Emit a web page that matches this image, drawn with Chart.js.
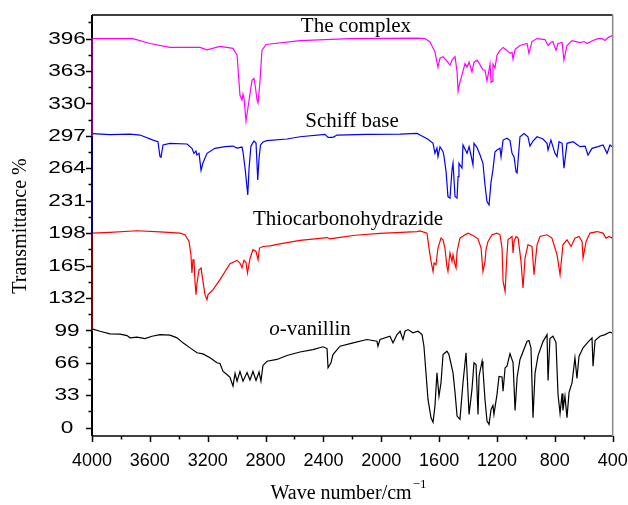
<!DOCTYPE html>
<html>
<head>
<meta charset="utf-8">
<script src="https://cdn.jsdelivr.net/npm/chart.js@4.4.1/dist/chart.umd.min.js"></script>
<style>
html,body{margin:0;padding:0;background:#fff;}
#wrap{width:628px;height:505px;}
</style>
</head>
<body>
<div id="wrap"><canvas id="c" width="628" height="505"></canvas></div>
<script>
// ---- data (wave number cm^-1, transmittance %) ----
const complexWn = [4000,3717,3599,3461,3253,3205,3115,3025,2997,2977,2963,2956,2949,2935,2914,2894,2880,2873,2859,2852,2838,2825,2797,2562,2216,1753,1698,1663,1629,1608,1594,1573,1546,1525,1511,1490,1476,1469,1456,1442,1421,1407,1393,1373,1359,1338,1324,1297,1283,1269,1255,1248,1241,1234,1228,1214,1200,1179,1158,1131,1110,1096,1089,1075,1041,992,979,958,923,868,847,827,813,792,778,750,737,716,681,626,598,578,536,502,474,453,432,404];
const complexT = [396,396,391,387,387,384.5,388,386,379,338.5,333.5,339.5,335.5,312,333.5,353.5,355.5,349.5,333.5,330.5,353.5,384,390,394,396,396.5,396,392.5,382.5,367,376,377.5,373,369,374,377.5,362,342.5,352,359,370.5,367,372,362,372,374,371,364,364,353,364,370,351.5,352.5,370,366,379,384,387,384,381,382,375,385,389,391,381,393,396,395,389,392,393,384,391,392,374,389,394,392,393,391,394,396,396,394,397,399];

const schiffWn = [4000,3876,3737,3668,3578,3544,3530,3523,3509,3461,3343,3309,3295,3281,3275,3260,3246,3233,3205,3150,3080,3025,2997,2963,2956,2942,2923,2914,2901,2880,2866,2854,2845,2835,2818,2790,2652,2562,2389,2368,2334,2306,2099,1870,1753,1732,1677,1642,1629,1615,1608,1594,1573,1566,1552,1539,1525,1511,1504,1490,1476,1469,1463,1442,1435,1407,1393,1380,1366,1359,1338,1317,1297,1283,1269,1255,1241,1228,1214,1200,1179,1172,1158,1131,1110,1096,1082,1068,1061,1054,1041,1013,986,972,951,923,882,854,847,827,799,785,771,750,737,716,674,626,591,571,543,502,467,439,419,404];
const schiffT = [299.3,298.3,298.8,297.8,292.7,291,275.8,275.2,287.7,289.4,288.7,284.3,279.2,281.6,277.5,279.2,261.8,269.4,279.2,284.3,286,286.6,284.6,285.6,280.6,264.3,236.9,264.3,286.6,291.7,289.7,252.1,274.5,287.7,290.7,292.2,293.8,296.1,298.5,295.5,295.5,297.8,298.5,298.8,299.5,297.8,293.5,289.4,279.2,284.6,275.8,285.9,280.9,275.8,260.6,235.2,233.6,262.3,269.1,235.2,233.6,255.5,269.1,264.3,287.7,279.2,286,277.5,267.4,289.4,285.1,277.5,269.1,247,229.8,226.7,250.1,262.3,280.6,282.6,284.3,275.8,292.7,294.5,292.2,279.2,275.5,260.2,259.2,272.4,296.1,299.3,296.1,286.6,291.7,296.1,293.8,289.4,282.6,292.7,279.2,275.8,291,289.4,264,289.4,291,286,286.6,277.5,284.3,286,287.7,279.2,287.7,286];

const thioWn = [4000,3876,3689,3530,3392,3357,3329,3316,3309,3302,3295,3288,3281,3274,3260,3246,3233,3219,3205,3198,3163,3115,3046,2997,2977,2963,2949,2935,2925,2908,2887,2866,2852,2842,2818,2769,2700,2562,2375,2354,2285,2182,2009,1753,1732,1684,1670,1656,1642,1635,1622,1608,1587,1573,1560,1546,1539,1525,1511,1504,1490,1483,1476,1456,1421,1400,1366,1331,1310,1297,1283,1276,1262,1234,1200,1179,1165,1158,1144,1131,1124,1096,1089,1082,1068,1054,1034,1020,1006,986,958,944,923,903,854,820,785,764,744,716,688,661,633,612,605,584,557,508,467,446,425,404];
const thioT = [198,198.8,200.4,199.3,198,196.3,189.5,176,157.4,170.9,170.9,148.9,135.4,147.2,160.7,162.5,148.9,135.4,130.3,135.4,140.4,150.6,166.8,170.2,167.5,162.8,170.4,167.8,157.4,171.9,181.1,179.3,170.9,182.8,184.4,185.1,187.1,190.7,193.5,192.2,193.7,195.8,197.8,199.6,200.3,198,182.8,169.2,159,167.5,165.8,182.8,192.9,191.2,182.8,164.1,159,177.7,169.2,176,165.8,162.5,179.3,192.9,196.3,198,195.6,192.2,182.8,159,168.9,181.1,189.5,196.3,198,196.3,182.8,148.9,138.7,176,191.2,194.6,177.7,189.5,194.6,192.9,169.2,142.2,172.6,186.1,184.4,155.7,186.1,194.6,196.3,192.9,176,155.7,186.1,191.2,184.4,192.9,194.6,189.5,172.6,189.5,198,199.6,198,192.9,194.7,192.9];

const vanWn = [4000,3945,3876,3806,3758,3737,3689,3634,3585,3530,3461,3412,3371,3322,3274,3233,3184,3136,3115,3094,3067,3046,3025,3011,2997,2977,2956,2928,2908,2887,2866,2845,2832,2818,2790,2721,2652,2562,2472,2403,2375,2368,2348,2334,2285,2195,2099,2030,2023,2009,1940,1919,1891,1870,1850,1836,1815,1781,1746,1718,1705,1691,1677,1656,1642,1629,1615,1601,1587,1573,1546,1532,1504,1490,1476,1456,1435,1414,1407,1393,1373,1359,1345,1331,1324,1303,1297,1283,1269,1255,1241,1228,1221,1200,1186,1165,1158,1144,1131,1110,1089,1075,1061,1041,992,979,965,951,937,916,882,854,847,834,813,792,778,764,750,744,730,716,702,681,661,647,633,605,571,543,536,522,488,453,432,419,404];
const vanT = [100.5,98.1,95.4,95.2,93.7,91.4,92.2,90.7,93,94.7,94.2,91.4,86.3,81.2,76.2,75.1,71.1,66,65.3,57.2,54.1,51.1,42.3,55.2,47.3,57.2,47.3,56.2,48.5,57.2,48,56.7,47.3,63.3,67.6,69.4,73.4,77,79.5,82.3,80.5,60.9,66,74.4,82.9,86.3,89.7,88,82.9,89.7,93,86.3,94.7,98.1,89.7,98.1,99.8,96.5,98.1,94.7,82.9,55.8,28.7,10.1,5.4,21.9,55.8,32.1,45.7,74.4,77.8,74.4,55.8,35.6,11.8,8.4,45.7,76.2,55.8,13.5,38.9,66,64.3,13.5,52.4,67.6,59.2,28.7,6.7,3.3,18.6,22.6,13.5,33.8,52.1,51.6,37.2,60.9,62.5,75.4,66.3,17.6,51.1,69.4,88,88.7,81.2,10.1,55.2,73.4,87.6,94.7,48,90.7,93,86.6,33.8,14.5,34.8,17.6,32.1,10.1,35.6,45.7,71.1,50.1,72.4,81.2,87.1,91.4,62.5,88.6,93,94.7,96.3,97.1,96.3];

const yTickValues = [0,33,66,99,132,165,198,231,264,297,330,363,396];
const xTickValues = [4000,3600,3200,2800,2400,2000,1600,1200,800,400];
const seriesNames = ['The complex','Schiff base','Thiocarbonohydrazide','o-vanillin'];

function pts(xs, ys){ return xs.map((x,i)=>({x:x, y:ys[i]})); }

const serif = "'Liberation Serif','Times New Roman',serif";
const sans = "'Liberation Sans',Arial,sans-serif";

const decor = {
  id:'decor',
  afterDraw(chart){
    const ctx = chart.ctx, xs = chart.scales.x, ys = chart.scales.y, a = chart.chartArea;
    ctx.save();
    ctx.lineWidth = 1.5;
    ctx.strokeStyle = '#000';
    ctx.beginPath(); ctx.moveTo(a.left, a.top); ctx.lineTo(a.right, a.top); ctx.stroke();
    ctx.beginPath(); ctx.moveTo(a.left, a.bottom); ctx.lineTo(a.right, a.bottom); ctx.stroke();
    ctx.strokeStyle = '#888';
    ctx.beginPath(); ctx.moveTo(a.right, a.top); ctx.lineTo(a.right, a.bottom); ctx.stroke();
    const segs = [[a.top, ys.getPixelForValue(396), '#000'],
                  [ys.getPixelForValue(396), ys.getPixelForValue(297), '#800080'],
                  [ys.getPixelForValue(297), ys.getPixelForValue(198), '#000080'],
                  [ys.getPixelForValue(198), ys.getPixelForValue(99), '#800000'],
                  [ys.getPixelForValue(99), a.bottom, '#000']];
    ctx.lineWidth = 2;
    segs.forEach(s=>{ ctx.strokeStyle=s[2]; ctx.beginPath(); ctx.moveTo(a.left, s[0]); ctx.lineTo(a.left, s[1]); ctx.stroke(); });
    ctx.strokeStyle = '#000'; ctx.lineWidth = 1.5;
    for (let v = 0; v <= 420; v += 16.5) {
      const p = Math.round(ys.getPixelForValue(v)) + 0.5;
      if (p < a.top - 0.5) break;
      const major = Math.abs(v/33 - Math.round(v/33)) < 1e-6;
      ctx.beginPath(); ctx.moveTo(a.left, p); ctx.lineTo(a.left - (major ? 6 : 3.5), p); ctx.stroke();
    }
    for (let v = 400; v <= 4000; v += 200) {
      const p = Math.round(xs.getPixelForValue(v)) + 0.5;
      const major = v % 400 === 0;
      ctx.beginPath(); ctx.moveTo(p, a.bottom); ctx.lineTo(p, a.bottom + (major ? 6 : 3.5)); ctx.stroke();
    }
    // y tick labels (horizontally wide lettering as in the reference)
    ctx.fillStyle = '#000';
    ctx.font = '17px ' + sans;
    ctx.textAlign = 'center'; ctx.textBaseline = 'middle';
    yTickValues.forEach(v => {
      ctx.save();
      ctx.translate(67, ys.getPixelForValue(v) + 0.5);
      ctx.scale(1.33, 1);
      ctx.fillText(String(v), 0, 0);
      ctx.restore();
    });
    ctx.textBaseline = 'alphabetic';
    ctx.textAlign = 'center';
    ctx.font = '21px ' + serif;
    ctx.fillText(seriesNames[0], xs.getPixelForValue(2175), ys.getPixelForValue(402.7));
    ctx.fillText(seriesNames[1], xs.getPixelForValue(2202), ys.getPixelForValue(306.2));
    ctx.fillText(seriesNames[2], xs.getPixelForValue(2230), ys.getPixelForValue(206.4));
    const cx = xs.getPixelForValue(2493), by = ys.getPixelForValue(94.7);
    ctx.font = 'italic 21px ' + serif;
    const w1 = ctx.measureText('o').width;
    ctx.font = '21px ' + serif;
    const w2 = ctx.measureText('-vanillin').width;
    ctx.textAlign = 'left';
    const x0 = cx - (w1 + w2)/2;
    ctx.font = 'italic 21px ' + serif; ctx.fillText('o', x0, by);
    ctx.font = '21px ' + serif; ctx.fillText('-vanillin', x0 + w1, by);
    ctx.font = '20px ' + serif;
    const t1 = 'Wave number/cm';
    const tw = ctx.measureText(t1).width;
    ctx.font = '13px ' + serif;
    const sw = ctx.measureText('\u22121').width;
    const tx = 348 - (tw + sw)/2;
    ctx.font = '20px ' + serif; ctx.fillText(t1, tx, 499);
    ctx.font = '13px ' + serif; ctx.fillText('\u22121', tx + tw + 1, 488);
    ctx.translate(26, 226); ctx.rotate(-Math.PI/2);
    ctx.textAlign = 'center'; ctx.font = '20px ' + serif;
    ctx.fillText('Transmittance %', 0, 0);
    ctx.restore();
  }
};

const cols = ['#FF00FF','#0000FF','#FF0000','#000000'];
const data = [pts(complexWn, complexT), pts(schiffWn, schiffT), pts(thioWn, thioT), pts(vanWn, vanT)];

new Chart(document.getElementById('c'), {
  type: 'scatter',
  data: {
    datasets: data.map((d,i)=>({label: seriesNames[i], data: d, showLine: true, borderColor: cols[i], backgroundColor: cols[i], borderWidth: 1.2, pointRadius: 0, tension: 0}))
  },
  options: {
    responsive: false,
    devicePixelRatio: 1,
    animation: false,
    layout: { padding: { top: 15, right: 0, left: 0, bottom: 28 } },
    plugins: { legend: { display: false }, tooltip: { enabled: false } },
    scales: {
      x: {
        type: 'linear', reverse: true, min: 400, max: 4000,
        afterBuildTicks: s => { s.ticks = xTickValues.map(v=>({value:v})); },
        afterFit: s => { s.height = 41; s.paddingRight = 15.3; },
        grid: { display: false, drawTicks: false },
        border: { display: false },
        ticks: { color: '#000', font: { family: sans, size: 18 }, padding: 14, maxRotation: 0, autoSkip: false, callback: v => String(v) }
      },
      y: {
        type: 'linear', min: -8.5, max: 420,
        afterBuildTicks: s => { s.ticks = yTickValues.map(v=>({value:v})); },
        afterFit: s => { s.width = 92; },
        grid: { display: false, drawTicks: false },
        border: { display: false },
        ticks: { display: false }
      }
    }
  },
  plugins: [decor]
});
</script>
</body>
</html>
